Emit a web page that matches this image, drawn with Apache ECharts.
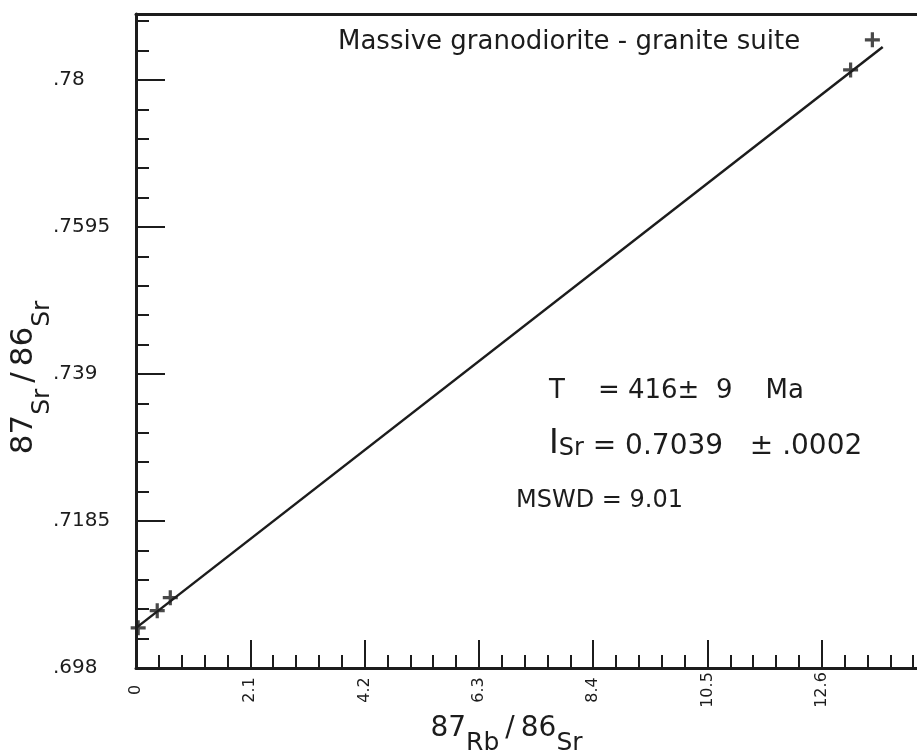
<!DOCTYPE html>
<html>
<head>
<meta charset="utf-8">
<script src="https://cdn.jsdelivr.net/npm/echarts@6/dist/echarts.min.js"></script>
<style>
  html, body { margin: 0; padding: 0; background: #fff; }
  #chart { width: 917px; height: 753px; }
</style>
</head>
<body>
<div id="chart"></div>
<script>
// Rb-Sr 等时线数据
const rbSr = [0.04, 0.39, 0.63, 13.13, 13.53];
const srSr = [0.7036, 0.7060, 0.7078, 0.7814, 0.7856];

// 等时线两端
const lineRb = [0.02, 13.72];
const lineSr = [0.7037, 0.7846];

// 坐标刻度
const xTickValues = [0, 2.1, 4.2, 6.3, 8.4, 10.5, 12.6];
const xTickLabels = ['0', '2.1', '4.2', '6.3', '8.4', '10.5', '12.6'];
const yTickValues = [0.698, 0.7185, 0.739, 0.7595, 0.78];
const yTickLabels = ['.698', '.7185', '.739', '.7595', '.78'];

const X_MIN = 0, X_MAX = 14.35;
const Y_MIN = 0.698, Y_MAX = 0.7892;

const INK = '#1c1c1c';
const FONT = 'DejaVu Sans';

// 小刻度: 每个大刻度间分5份
function minorTicks(major, lo, hi) {
    const step = (major[1] - major[0]) / 5;
    const out = [];
    for (let v = major[0]; v <= hi + 1e-9; v += step) {
        if (v >= lo - 1e-9) out.push(+v.toFixed(6));
    }
    return out;
}

function labelFor(values, labels) {
    return function(v) {
        for (let i = 0; i < values.length; i++) {
            if (Math.abs(values[i] - v) < 1e-6) return labels[i];
        }
        return '';
    };
}

const chart = echarts.init(document.getElementById('chart'));

// 坐标轴名称: 大号数字 + 下标元素
function nameRich(big, small, shift) {
    return {
        n: { fontSize: big, fontFamily: FONT, color: INK },
        sl: { fontSize: big, fontFamily: FONT, color: INK, padding: [0, 6, 0, 6] },
        s: { fontSize: small, fontFamily: FONT, color: INK, padding: [shift * 2, 0, 0, 0] }
    };
}

const option = {
    animation: false,
    backgroundColor: '#fff',
    grid: { left: 136, top: 14, right: 0, bottom: 85, outerBoundsMode: 'none', containLabel: false },
    xAxis: [
        {
            type: 'value',
            min: X_MIN,
            max: X_MAX,
            position: 'bottom',
            axisLine: { lineStyle: { color: INK, width: 3 } },
            axisTick: { inside: true, length: 28, customValues: xTickValues, lineStyle: { color: INK, width: 2 } },
            axisLabel: {
                customValues: xTickValues,
                rotate: 90,
                align: 'center',
                verticalAlign: 'middle',
                margin: 22,
                fontSize: 16,
                fontFamily: FONT,
                color: INK,
                formatter: labelFor(xTickValues, xTickLabels)
            },
            splitLine: { show: false },
            name: '{n|87}{s|Rb}{sl|/}{n|86}{s|Sr}',
            nameLocation: 'middle',
            nameGap: 33,
            nameMoveOverlap: false,
            nameTextStyle: { rich: nameRich(28, 25, 15), padding: [0, 40, 0, 0] }
        },
        {
            type: 'value',
            min: X_MIN,
            max: X_MAX,
            position: 'bottom',
            axisLine: { show: false },
            axisTick: { inside: true, length: 13, customValues: minorTicks(xTickValues, X_MIN, X_MAX), lineStyle: { color: INK, width: 2 } },
            axisLabel: { show: false },
            splitLine: { show: false }
        },
        {
            type: 'value',
            min: X_MIN,
            max: X_MAX,
            position: 'top',
            axisLine: { lineStyle: { color: INK, width: 3 } },
            axisTick: { show: false },
            axisLabel: { show: false },
            splitLine: { show: false }
        }
    ],
    yAxis: [
        {
            type: 'value',
            min: Y_MIN,
            max: Y_MAX,
            position: 'left',
            axisLine: { lineStyle: { color: INK, width: 3 } },
            axisTick: { inside: true, length: 29, customValues: yTickValues, lineStyle: { color: INK, width: 2 } },
            axisLabel: {
                customValues: yTickValues,
                align: 'left',
                margin: 83,
                fontSize: 20,
                fontFamily: FONT,
                color: INK,
                formatter: labelFor(yTickValues, yTickLabels)
            },
            splitLine: { show: false },
            name: '{n|87}{s|Sr}{sl|/}{n|86}{s|Sr}',
            nameLocation: 'middle',
            nameRotate: 90,
            nameGap: 81,
            nameMoveOverlap: false,
            nameTextStyle: { rich: nameRich(31, 25, 19), padding: [0, 73, 0, 0] }
        },
        {
            type: 'value',
            min: Y_MIN,
            max: Y_MAX,
            position: 'left',
            axisLine: { show: false },
            axisTick: { inside: true, length: 13, customValues: minorTicks(yTickValues, Y_MIN, Y_MAX), lineStyle: { color: INK, width: 2 } },
            axisLabel: { show: false },
            splitLine: { show: false }
        }
    ],
    graphic: [
        {
            type: 'text', left: 338, top: 29,
            style: { text: 'Massive granodiorite - granite suite', font: '26px "DejaVu Sans"', fill: INK }
        },
        {
            type: 'text', left: 549, top: 378,
            style: { text: 'T    = 416±  9    Ma', font: '26px "DejaVu Sans"', fill: INK }
        },
        {
            type: 'text', left: 549, top: 428,
            style: {
                text: '{i|I}{s|Sr}{v| = 0.7039   ± .0002}',
                rich: {
                    i: { fontSize: 33, fontFamily: FONT, fill: INK, verticalAlign: 'bottom' },
                    s: { fontSize: 24, fontFamily: FONT, fill: INK, verticalAlign: 'bottom' },
                    v: { fontSize: 28, fontFamily: FONT, fill: INK, verticalAlign: 'bottom' }
                }
            }
        },
        {
            type: 'text', left: 516, top: 489,
            style: { text: 'MSWD = 9.01', font: '24px "DejaVu Sans"', fill: INK }
        }
    ],
    series: [
        {
            name: 'isochron',
            type: 'line',
            xAxisIndex: 0,
            yAxisIndex: 0,
            symbol: 'none',
            lineStyle: { color: INK, width: 2.5 },
            data: lineRb.map((x, i) => [x, lineSr[i]])
        },
        {
            name: 'samples',
            type: 'scatter',
            xAxisIndex: 0,
            yAxisIndex: 0,
            symbol: 'path://M5.5,0h3v5.5h5.5v3h-5.5v5.5h-3v-5.5h-5.5v-3h5.5z',
            symbolSize: 15,
            itemStyle: { color: INK },
            data: rbSr.map((x, i) => [x, srSr[i]])
        }
    ]
};

chart.setOption(option);
</script>
</body>
</html>
